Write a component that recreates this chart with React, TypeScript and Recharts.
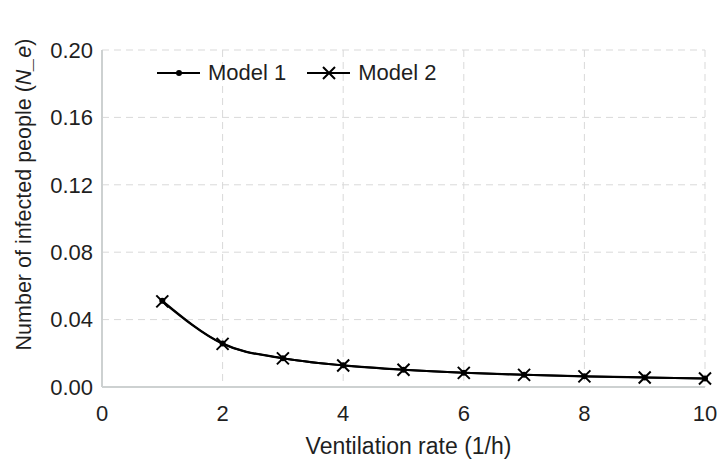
import { LineChart, Line, XAxis, YAxis, CartesianGrid, Legend } from 'recharts';

const RATES = [1, 2, 3, 4, 5, 6, 7, 8, 9, 10];
const MODEL_1 = [0.0512, 0.0258, 0.0171, 0.0129, 0.0103, 0.0085, 0.0073, 0.0064, 0.0057, 0.0051];
const MODEL_2 = [0.0508, 0.0256, 0.0170, 0.0128, 0.0102, 0.0084, 0.0072, 0.0063, 0.0056, 0.0050];
const X_TICKS = [0, 2, 4, 6, 8, 10];
const Y_TICKS = [0, 0.04, 0.08, 0.12, 0.16, 0.2];

const DATA = RATES.map((r, i) => ({ rate: r, m1: MODEL_1[i], m2: MODEL_2[i] }));

const FONT = '"Liberation Sans", Arial, sans-serif';
const TEXT = '#1f1f1f';
const AXIS = '#cdd1d1';

function Cross({ cx, cy, size = 6 }: { cx: number; cy: number; size?: number }) {
  return (
    <path
      d={`M${cx - size},${cy - size}L${cx + size},${cy + size}M${cx - size},${cy + size}L${cx + size},${cy - size}`}
      stroke="#000" strokeWidth={2} fill="none"
    />
  );
}

function LegendBox() {
  const items = [
    { name: 'Model 1', mark: 'dot' },
    { name: 'Model 2', mark: 'cross' },
  ];
  return (
    <div style={{ display: 'flex', gap: 21, fontFamily: FONT, fontSize: 22, lineHeight: '26px', color: TEXT }}>
      {items.map(it => (
        <div key={it.name} style={{ display: 'flex', alignItems: 'center', gap: 8 }}>
          <svg width={43} height={14}>
            <line x1={0} y1={7} x2={43} y2={7} stroke="#000" strokeWidth={2} />
            {it.mark === 'dot'
              ? <circle cx={22} cy={7} r={3} fill="#000" />
              : <Cross cx={22} cy={7} />}
          </svg>
          <span>{it.name}</span>
        </div>
      ))}
    </div>
  );
}

function YLabel({ viewBox }: any) {
  const cx = viewBox.x + 24;
  const cy = viewBox.y + viewBox.height / 2 - 24;
  return (
    <text
      x={cx} y={cy} transform={`rotate(-90, ${cx}, ${cy})`}
      textAnchor="middle" dominantBaseline="central"
      fontFamily={FONT} fontSize={21.5} fill={TEXT}
    >
      Number of infected people (<tspan fontStyle="italic">N_e</tspan>)
    </text>
  );
}

function XLabel({ viewBox }: any) {
  return (
    <text
      x={viewBox.x + viewBox.width / 2 + 5} y={viewBox.y + 67}
      textAnchor="middle" fontFamily={FONT} fontSize={23} fill={TEXT}
    >
      Ventilation rate (1/h)
    </text>
  );
}

export default function App() {
  return (
    <div style={{ position: 'absolute', left: 0, top: 0, background: '#fff' }}>
      <LineChart width={721} height={459} data={DATA} margin={{ top: 24, right: 16, bottom: 0, left: 0 }}>
        <CartesianGrid stroke="#d9d9d9" strokeDasharray="7 5" />
        <XAxis
          dataKey="rate" type="number" domain={[0, 10]} ticks={X_TICKS}
          height={72} tickSize={0} tickMargin={18}
          stroke={AXIS} strokeWidth={2}
          tick={{ fontSize: 22, fill: TEXT, fontFamily: FONT }}
          label={<XLabel />}
        />
        <YAxis
          type="number" domain={[0, 0.2]} ticks={Y_TICKS}
          width={102} tickSize={0} tickMargin={9}
          stroke={AXIS} strokeWidth={2}
          tickFormatter={(v: number) => v.toFixed(2)}
          tick={{ fontSize: 22, fill: TEXT, fontFamily: FONT }}
          label={<YLabel />}
        />
        <Legend
          content={<LegendBox />}
          layout="horizontal" verticalAlign="top" align="left"
          wrapperStyle={{ left: 157, top: 60, width: 'auto' }}
        />
        <Line
          type="monotone" dataKey="m1" name="Model 1" stroke="#000" strokeWidth={2}
          dot={{ r: 3, fill: '#000', stroke: '#000', strokeWidth: 0 }}
          isAnimationActive={false}
        />
        <Line
          type="monotone" dataKey="m2" name="Model 2" stroke="#000" strokeWidth={2}
          dot={(p: any) => <Cross key={`x-${p.index}`} cx={p.cx} cy={p.cy} />}
          isAnimationActive={false}
        />
      </LineChart>
    </div>
  );
}
